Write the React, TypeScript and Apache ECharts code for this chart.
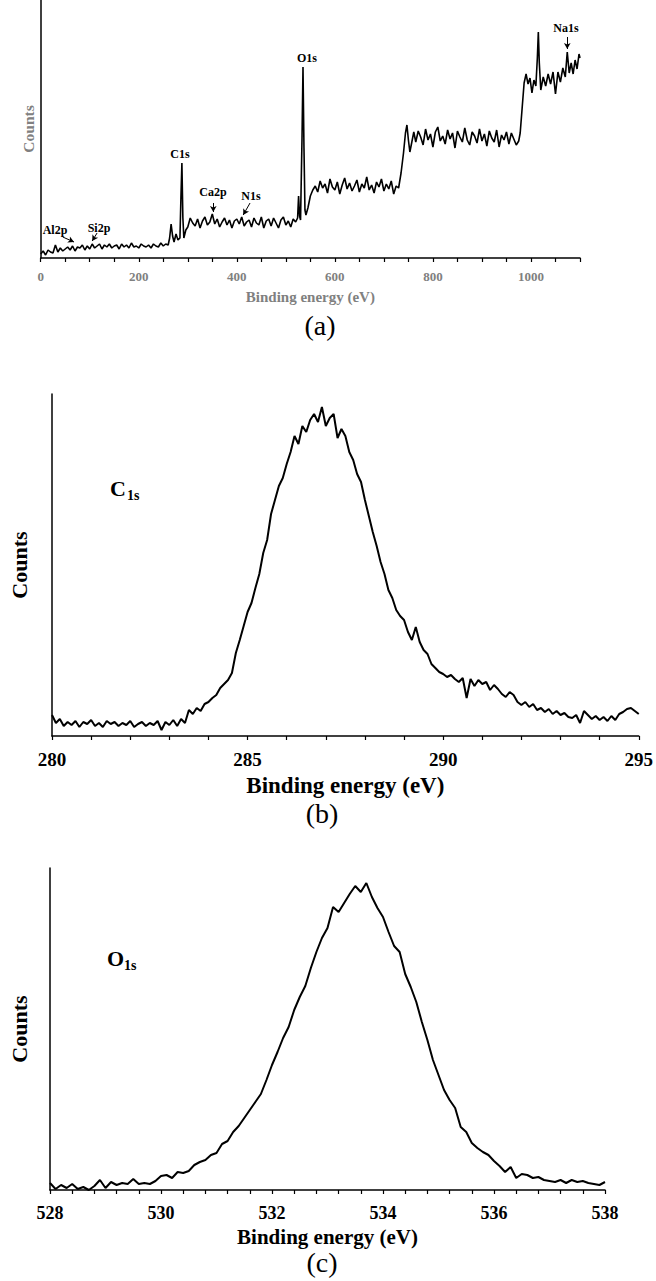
import React, { useEffect, useRef } from "react";
import * as echarts from "echarts";

const FONT = "Liberation Serif";

// (a) survey spectrum: [binding energy (eV), counts (arb.)]
const SURVEY: [number, number][] = [
  [0, 4], [5, 7], [10, 3], [15, 8], [20, 6], [25, 5], [30, 13], [35, 6], [40, 10], [45, 7],
  [50, 9], [55, 11], [60, 8], [65, 12], [70, 7], [75, 11], [80, 10], [85, 13], [90, 8], [95, 12],
  [100, 9], [105, 14], [110, 10], [115, 12], [120, 14], [125, 9], [130, 13], [135, 11], [140, 14], [145, 10],
  [150, 12], [155, 13], [160, 9], [165, 14], [170, 11], [175, 13], [180, 10], [185, 15], [190, 11], [195, 12],
  [200, 10], [205, 14], [210, 12], [215, 11], [220, 13], [225, 10], [230, 14], [235, 12], [240, 11], [245, 15],
  [250, 12], [255, 14], [260, 13], [263, 20], [266, 34], [269, 22], [272, 16], [276, 24], [280, 18], [284, 20],
  [286, 60], [288, 95], [290, 40], [292, 20], [296, 28],
  [300, 31], [305, 40], [310, 35], [315, 32], [320, 39], [325, 30], [330, 37], [335, 41], [340, 33], [345, 36],
  [350, 44], [355, 34], [360, 39], [365, 31], [370, 36], [375, 40], [380, 33], [385, 38], [390, 30], [395, 37],
  [400, 39], [405, 34], [410, 41], [415, 32], [420, 36], [425, 38], [430, 31], [435, 40], [440, 35], [445, 33],
  [450, 41], [455, 30], [460, 37], [465, 39], [470, 32], [475, 40], [480, 35], [485, 30], [490, 38], [495, 41],
  [500, 33], [505, 37], [510, 31], [515, 39], [520, 36],
  [524, 40], [526, 62], [528, 42], [530, 38], [533, 120], [535, 191], [537, 110], [539, 48], [541, 43], [545, 50],
  [550, 62], [555, 68], [560, 72],
  [565, 66], [570, 77], [575, 70], [580, 74], [585, 65], [590, 79], [595, 71], [600, 68], [605, 76], [610, 64],
  [615, 73], [620, 80], [625, 69], [630, 75], [635, 67], [640, 72], [645, 78], [650, 66], [655, 74], [660, 70],
  [665, 81], [670, 68], [675, 73], [680, 65], [685, 76], [690, 71], [695, 79], [700, 67], [705, 74], [710, 69],
  [715, 77], [720, 64], [725, 72], [730, 70],
  [735, 85], [740, 105], [744, 125], [747, 133], [750, 118], [753, 106], [757, 116], [761, 126],
  [765, 116], [770, 127], [775, 121], [780, 113], [785, 129], [790, 118], [795, 124], [800, 111], [805, 126], [810, 131],
  [815, 117], [820, 122], [825, 114], [830, 128], [835, 119], [840, 125], [845, 110], [850, 127], [855, 121], [860, 116],
  [865, 130], [870, 118], [875, 113], [880, 126], [885, 122], [890, 115], [895, 129], [900, 117], [905, 124], [910, 112],
  [915, 127], [920, 120], [925, 116], [930, 128], [935, 111], [940, 123], [945, 118], [950, 126], [955, 114], [960, 125],
  [965, 119], [970, 113], [975, 117],
  [978, 125], [982, 150], [986, 175], [990, 184], [994, 174], [998, 180], [1002, 165], [1006, 178], [1010, 172], [1013, 200],
  [1015, 226], [1017, 195], [1020, 168],
  [1025, 181], [1030, 172], [1035, 184], [1040, 174], [1045, 186], [1050, 164], [1055, 186], [1060, 176], [1065, 190], [1070, 181],
  [1074, 206], [1078, 185], [1082, 195], [1086, 184], [1090, 198], [1094, 189], [1098, 204], [1100, 200],
];

// (b) C1s high-resolution spectrum, 280.0 to 295.0 eV every 0.1 eV
const C1S_START = 280;
const C1S_STEP = 0.1;
const C1S_COUNTS = [
  21, 13, 17, 10, 14, 11, 15, 9, 14, 12,
  16, 10, 13, 9, 15, 12, 14, 10, 13, 11,
  15, 9, 12, 14, 10, 13, 11, 15, 6, 14,
  11, 16, 10, 17, 13, 26, 22, 28, 25, 32,
  34, 38, 41, 48, 52, 56, 63, 83, 96, 110,
  124, 133, 148, 162, 183, 196, 222, 236, 250, 258,
  272, 284, 300, 292, 310, 304, 316, 322, 314, 329,
  310, 318, 322, 298, 307, 300, 284, 276, 262, 254,
  236, 220, 204, 190, 174, 162, 146, 138, 126, 120,
  116, 104, 96, 109, 94, 86, 82, 72, 68, 64,
  62, 59, 61, 57, 54, 58, 38, 57, 50, 56,
  52, 54, 46, 51, 47, 42, 39, 44, 41, 34,
  31, 34, 29, 32, 26, 28, 24, 27, 22, 25,
  21, 23, 19, 18, 21, 13, 25, 21, 17, 20,
  16, 19, 15, 20, 16, 22, 24, 27, 28, 25,
  22,
];

// (c) O1s high-resolution spectrum, 528.0 to 538.0 eV every 0.1 eV
const O1S_START = 528;
const O1S_STEP = 0.1;
const O1S_COUNTS = [
  7, 1, 5, 2, 6, 1, 3, 0, 4, 10,
  2, 8, 5, 7, 6, 11, 6, 7, 6, 9,
  14, 15, 12, 18, 17, 19, 25, 28, 30, 35,
  37, 46, 49, 58, 64, 72, 80, 88, 96, 110,
  125, 138, 152, 163, 180, 193, 204, 222, 238, 252,
  262, 283, 278, 287, 296, 304, 298, 307, 293, 282,
  273, 258, 244, 238, 216, 203, 188, 168, 150, 130,
  115, 100, 90, 82, 63, 58, 47, 42, 38, 35,
  29, 24, 18, 23, 12, 16, 15, 12, 13, 10,
  9, 8, 10, 7, 10, 8, 9, 7, 6, 5,
  8,
];

// peak arrows for (a): [label, arrow from (eV, counts), arrow to (eV, counts)]
const SURVEY_ARROWS: [string, number, number, number, number][] = [
  ["Al2p", 45, 21, 68, 16],
  ["Si2p", 115, 25, 105, 17],
  ["Ca2p", 352, 55, 352, 46],
  ["N1s", 427, 55, 413, 43],
  ["Na1s", 1074, 221, 1074, 209],
];

const toPairs = (start: number, step: number, vals: number[]) =>
  vals.map((v, i) => [Math.round((start + i * step) * 1000) / 1000, v]);

const labelEvery = (min: number, every: number) => (v: number) => {
  const k = (v - min) / every;
  return Math.abs(k - Math.round(k)) < 1e-6 ? String(Math.round(v)) : "";
};

function xAxisOf(
  gridIndex: number,
  min: number,
  max: number,
  interval: number,
  every: number,
  color: string,
  fontSize: number,
  margin: number,
  nameSize: number,
  nameGap: number
) {
  return {
    type: "value",
    gridIndex,
    min,
    max,
    interval,
    axisLine: { onZero: false, lineStyle: { color: "#000", width: 1.5 } },
    axisTick: { show: true, inside: false, length: 4, lineStyle: { color: "#000", width: 1.2 } },
    splitLine: { show: false },
    axisLabel: {
      formatter: labelEvery(min, every),
      color,
      fontFamily: FONT,
      fontWeight: "bold",
      fontSize,
      margin,
    },
    name: "Binding energy (eV)",
    nameLocation: "middle",
    nameGap,
    nameTextStyle: { color, fontFamily: FONT, fontWeight: "bold", fontSize: nameSize },
  };
}

function yAxisOf(gridIndex: number, max: number, color: string, nameSize: number, nameGap: number) {
  return {
    type: "value",
    gridIndex,
    min: 0,
    max,
    axisLine: { show: true, onZero: false, lineStyle: { color: "#000", width: 1.5 } },
    axisTick: { show: false },
    axisLabel: { show: false },
    splitLine: { show: false },
    name: "Counts",
    nameLocation: "middle",
    nameGap,
    nameTextStyle: { color, fontFamily: FONT, fontWeight: "bold", fontSize: nameSize },
  };
}

function txt(text: string, x: number, y: number, size: number, weight = "bold", align = "center") {
  return {
    type: "text",
    x,
    y,
    silent: true,
    style: {
      text,
      fill: "#000",
      fontFamily: FONT,
      fontSize: size,
      fontWeight: weight,
      align,
      verticalAlign: "middle",
    },
  };
}

export default function App() {
  const ref = useRef<HTMLDivElement>(null);
  useEffect(() => {
    document.body.style.margin = "0";
    const chart = echarts.init(ref.current as HTMLDivElement, null, { renderer: "svg" });
    const gray = "#808080";
    const option = {
      animation: false,
      grid: [
        { left: 40.7, top: 0, width: 539.3, height: 258 },
        { left: 39.3, top: 394, width: 600.7, height: 342 },
        { left: 40.7, top: 868, width: 564.3, height: 322 },
      ],
      xAxis: [
        xAxisOf(0, 0, 1100, 50, 200, gray, 13, 12, 15, 31),
        xAxisOf(1, 280, 295, 1, 5, "#000", 19, 14, 23, 38),
        xAxisOf(2, 528, 538, 0.4, 2, "#000", 18, 14, 21, 36),
      ],
      yAxis: [yAxisOf(0, 258, gray, 15.5, 4), yAxisOf(1, 342, "#000", 22, 22), yAxisOf(2, 322, "#000", 22, 20)],
      series: [
        {
          type: "line",
          xAxisIndex: 0,
          yAxisIndex: 0,
          data: SURVEY,
          showSymbol: false,
          symbol: "none",
          silent: true,
          lineStyle: { color: "#000", width: 1.6 },
          markLine: {
            silent: true,
            symbol: ["none", "arrow"],
            symbolSize: [5, 6],
            label: { show: false },
            lineStyle: { color: "#000", width: 1, type: "solid" },
            data: SURVEY_ARROWS.map(([, x1, y1, x2, y2]) => [{ coord: [x1, y1] }, { coord: [x2, y2] }]),
          },
        },
        {
          type: "line",
          xAxisIndex: 1,
          yAxisIndex: 1,
          data: toPairs(C1S_START, C1S_STEP, C1S_COUNTS),
          showSymbol: false,
          symbol: "none",
          silent: true,
          lineStyle: { color: "#000", width: 2 },
        },
        {
          type: "line",
          xAxisIndex: 2,
          yAxisIndex: 2,
          data: toPairs(O1S_START, O1S_STEP, O1S_COUNTS),
          showSymbol: false,
          symbol: "none",
          silent: true,
          lineStyle: { color: "#000", width: 2 },
        },
      ],
      graphic: [
        txt("Al2p", 55, 230, 12),
        txt("Si2p", 99, 228, 12),
        txt("C1s", 180, 154, 12),
        txt("Ca2p", 213, 192, 12),
        txt("N1s", 251, 196, 12),
        txt("O1s", 307, 58, 12),
        txt("Na1s", 566, 28, 12),
        txt("(a)", 320, 325, 28, "normal"),
        txt("C", 110, 488, 22, "bold", "left"),
        txt("1s", 127, 495, 14, "bold", "left"),
        txt("(b)", 322, 813, 28, "normal"),
        txt("O", 107, 958, 22, "bold", "left"),
        txt("1s", 124, 965, 14, "bold", "left"),
        txt("(c)", 322, 1262, 28, "normal"),
      ],
    };
    chart.setOption(option as any);
    return () => chart.dispose();
  }, []);
  return <div ref={ref} style={{ width: 656, height: 1281 }} />;
}
